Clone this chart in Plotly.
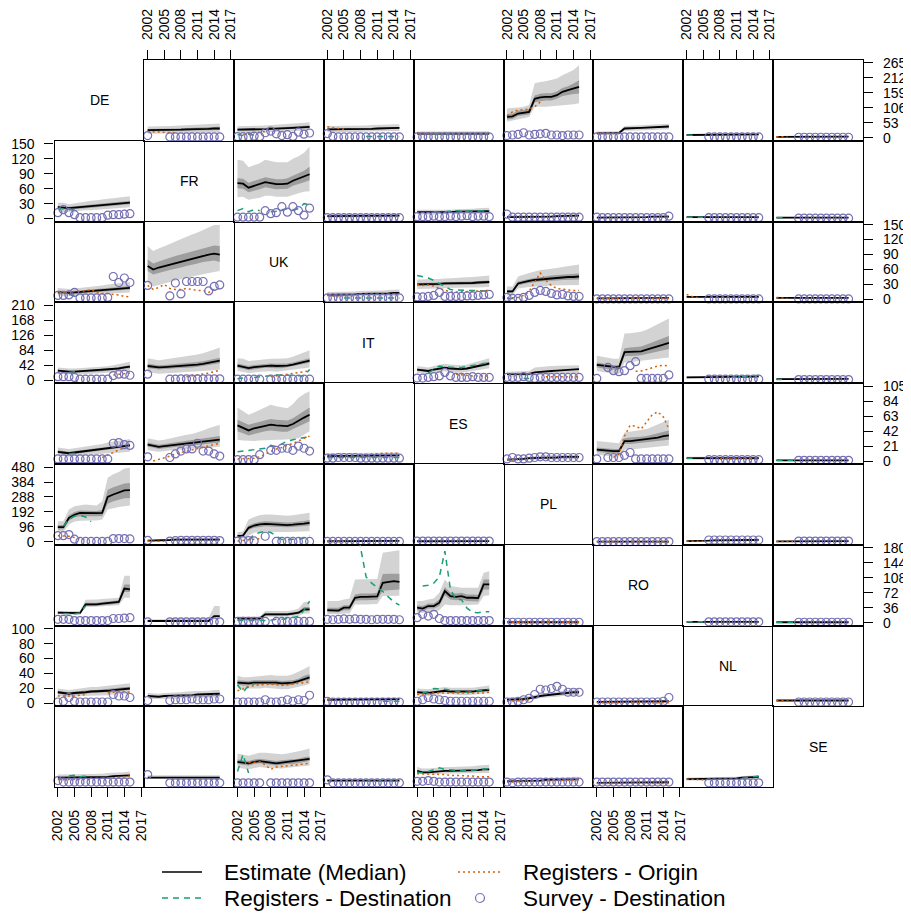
import plotly.graph_objects as go

N = None
YEARS = list(range(2002, 2016))
COUNTRIES = ["DE", "FR", "UK", "IT", "ES", "PL", "RO", "NL", "SE"]
ROW_MAX = [265, 150, 150, 210, 105, 480, 180, 100, 10]
ROW_TICKS = [[0, 53, 106, 159, 212, 265], [0, 30, 60, 90, 120, 150], [0, 30, 60, 90, 120, 150],
             [0, 42, 84, 126, 168, 210], [0, 21, 42, 63, 84, 105], [0, 96, 192, 288, 384, 480],
             [0, 36, 72, 108, 144, 180], [0, 20, 40, 60, 80, 100], [0, 2, 4, 6, 8, 10]]
X_TICKS = [2002, 2005, 2008, 2011, 2014, 2017]
LEGEND_LABELS = ["Estimate (Median)", "Registers - Origin", "Registers - Destination", "Survey - Destination"]

# ---------------- origin DE ----------------
DE_FR = dict(med=[27,27,27,28,28,29,29,30,30,31,31,32,33,33], lo95=[14,14,15,15,15,16,16,17,17,17,18,18,19,19],
             lo50=[23,23,23,24,24,25,25,25,26,26,27,27,28,28], hi50=[31,31,32,32,33,33,34,35,35,36,37,37,38,39],
             hi95=[40,40,41,41,42,43,44,45,46,47,48,49,50,51], rego=[22,21,20,19,18,18,N,N,N,N,N,N,N,N],
             surv=[8,N,N,N,3,3,3,3,3,3,3,3,3,3])
DE_UK = dict(med=[29,29,29,30,30,31,32,32,33,34,35,36,38,39], lo95=[18,18,18,19,19,20,20,21,21,22,23,24,25,26],
             lo50=[25,25,25,26,26,27,28,28,29,30,31,32,33,34], hi50=[33,33,33,34,35,35,36,37,38,39,40,41,43,44],
             hi95=[41,41,42,43,43,44,45,46,47,48,50,51,53,55], regd=[12,8,12,10,N,N,N,N,N,N,N,N,N,N],
             rego=[N,12,16,18,20,22,N,N,N,N,N,N,N,N], surv=[4,4,4,6,4,18,24,14,8,11,5,20,13,17])
DE_IT = dict(med=[30,30,30,30,31,31,31,32,32,33,33,34,35,35], lo95=[20,20,20,20,21,21,21,22,22,22,23,23,24,24],
             lo50=[27,27,27,27,28,28,28,29,29,30,30,31,32,32], hi50=[33,33,33,33,34,34,34,35,35,36,36,37,38,38],
             hi95=[42,42,42,42,43,43,44,44,45,46,46,47,48,48], regd=[N,N,N,N,N,N,N,5,5,5,5,5,5,5],
             rego=[39,36,32,30,N,N,N,N,N,N,N,N,N,N], surv=[15,5,3,3,3,3,3,3,3,3,3,3,3,3])
DE_ES = dict(med=[15,15,14,14,14,14,14,14,14,14,15,15,15,15], lo95=[9,9,8,8,8,8,8,8,8,8,9,9,9,9],
             lo50=[13,13,12,12,12,12,12,12,12,12,13,13,13,13], hi50=[17,17,16,16,16,16,16,16,16,16,17,17,17,17],
             hi95=[22,22,21,21,21,21,21,21,21,21,22,22,22,23], regd=[N,N,N,14,15,16,15,N,N,N,N,N,N,N],
             rego=[18,17,16,15,N,N,N,N,N,N,N,N,N,N], surv=[3,3,3,3,3,3,3,3,3,3,3,3,3,3])
DE_PL = dict(med=[74,76,86,88,92,138,143,145,145,151,163,169,175,180], lo95=[57,60,65,70,74,110,110,110,110,112,115,117,119,122],
             lo50=[65,67,77,79,83,126,130,132,132,138,148,152,155,157], hi50=[84,86,96,98,102,150,156,158,158,164,176,183,192,204],
             hi95=[104,105,107,110,116,193,198,200,204,210,222,230,240,257], rego=[78,92,98,100,102,110,127,N,N,N,N,N,N,N],
             surv=[8,10,12,18,10,12,14,16,10,10,8,10,10,10])
DE_RO = dict(med=[16,16,16,16,17,33,33,34,35,36,37,38,39,40], lo95=[10,10,10,10,11,25,25,26,27,27,28,29,30,30],
             lo50=[14,14,14,14,15,30,30,31,32,33,34,35,36,37], hi50=[18,18,18,18,19,36,36,37,38,39,40,41,42,43],
             hi95=[22,22,22,22,23,42,43,44,45,46,47,48,49,50], rego=[18,17,16,15,15,N,N,N,N,N,N,N,N,N],
             surv=[3,3,3,3,3,3,3,3,3,3,3,3,3,3])
DE_NL = dict(med=[10,10,10,10,11,11,11,11,11,12,12,12,12,12], lo95=[7,7,7,7,8,8,8,8,8,8,8,8,8,8],
             hi95=[13,13,13,13,14,14,14,14,14,15,15,15,15,16], regd=[10,10,9,N,N,N,N,N,N,N,N,N,N,N],
             surv=[N,N,N,N,3,3,3,3,3,3,3,3,3,3])
DE_SE = dict(med=[3,3,3,3,3,3,3,4,4,4,4,4,4,4], lo95=[1,1,1,1,1,1,1,2,2,2,2,2,2,2],
             hi95=[5,5,5,5,5,5,5,6,6,6,6,6,6,6], rego=[4,4,3,N,N,N,N,N,N,N,N,N,N,N],
             surv=[N,N,N,N,2,2,2,2,2,2,2,2,2,2])

# ---------------- origin FR ----------------
FR_DE = dict(med=[23,22,21,22,23,24,25,26,27,28,29,30,31,32], lo95=[15,13,14,15,16,17,17,18,19,20,21,21,22,23],
             lo50=[20,19,18,19,20,21,22,23,24,25,26,27,28,29], hi50=[26,25,24,25,26,27,28,29,30,31,32,34,35,36],
             hi95=[32,32,29,31,33,34,36,37,39,40,41,42,43,45], regd=[21,20,18,19,N,N,N,N,N,N,N,N,N,N],
             surv=[12,18,12,8,2,2,2,2,2,7,8,8,9,10])
FR_UK = dict(med=[71,70,62,66,69,73,71,69,69,70,76,80,84,89], lo95=[43,44,38,40,42,46,46,44,44,44,48,51,54,55],
             lo50=[61,60,53,56,59,63,61,59,59,60,66,69,73,77], hi50=[81,80,72,76,79,83,81,79,79,81,86,91,96,104],
             hi95=[118,116,103,107,111,118,116,113,113,113,120,125,132,144], regd=[16,20,14,18,16,N,14,15,18,20,18,20,30,28],
             surv=[3,3,3,3,3,16,10,12,24,13,24,16,7,21])
FR_IT = dict(med=[5,5,5,5,5,5,5,5,5,6,6,6,6,6], lo95=[2,2,2,2,2,2,2,2,2,3,3,3,3,3],
             hi95=[9,9,9,9,9,9,9,9,9,10,10,10,10,11], surv=[2,2,2,2,2,2,2,2,2,2,2,2,2,2])
FR_ES = dict(med=[13,13,12,12,13,13,13,14,14,14,14,15,15,15], lo95=[9,9,8,8,9,9,9,10,10,10,10,10,10,10],
             hi95=[18,18,17,17,18,18,18,19,19,19,20,21,21,22], regd=[N,N,N,14,13,14,15,16,15,16,15,16,16,15],
             surv=[4,4,4,5,4,4,5,4,5,6,4,5,5,4])
FR_PL = dict(med=[3,3,3,3,3,4,4,4,4,5,5,5,5,6], lo95=[1,1,1,1,1,2,2,2,2,2,2,2,3,3],
             hi95=[6,6,6,6,6,7,7,7,8,8,8,9,9,10], surv=[9,3,3,3,3,3,3,3,3,3,3,3,3,3])
FR_RO = dict(med=[2,2,2,2,2,3,3,3,3,3,4,4,4,4], lo95=[1,1,1,1,1,1,1,1,1,1,2,2,2,2],
             hi95=[4,4,4,4,4,5,5,5,5,5,6,6,7,7], surv=[3,2,2,2,2,2,2,2,2,2,2,2,2,5])
FR_NL = dict(med=[3,3,3,3,3,3,3,3,3,3,3,3,3,3], lo95=[1,1,1,1,1,1,1,1,1,1,1,1,1,1],
             hi95=[5,5,5,5,5,5,5,5,5,5,5,5,5,5], regd=[3,3,3,3,N,N,N,N,N,N,N,N,N,N],
             surv=[N,N,N,N,2,2,2,2,2,2,2,2,2,2])
FR_SE = dict(med=[2,2,2,2,2,2,2,2,2,2,2,2,2,2], lo95=[1,1,1,1,1,1,1,1,1,1,1,1,1,1],
             hi95=[3,3,3,3,3,3,3,3,3,3,3,3,3,3], regd=[2,2,2,N,N,N,N,N,N,N,N,N,N,N],
             surv=[N,N,N,N,1,1,1,1,1,1,1,1,1,1])

# ---------------- origin UK ----------------
UK_DE = dict(med=[15,14,13,14,15,16,17,18,19,20,21,22,23,23], lo95=[8,7,7,8,8,9,10,10,11,12,12,13,13,14],
             lo50=[12,11,11,11,12,13,14,15,16,17,18,18,19,20], hi50=[18,17,16,17,18,19,20,21,22,23,24,25,26,27],
             hi95=[23,22,21,22,23,24,26,27,28,30,31,33,34,35], regd=[N,N,10,8,N,N,N,N,N,N,N,N,N,N],
             rego=[12,14,16,16,16,17,20,14,12,12,10,9,6,5], surv=[8,8,9,14,3,3,3,3,3,4,46,34,43,34])
UK_FR = dict(med=[67,60,64,67,70,73,75,78,81,84,87,90,92,90], lo95=[33,26,29,32,35,38,41,43,46,48,51,53,55,57],
             lo50=[57,50,53,56,59,62,64,67,70,72,75,77,78,75], hi50=[80,72,76,80,83,87,90,93,97,100,103,106,108,107],
             hi95=[107,97,102,106,111,116,121,126,130,134,139,144,149,149], rego=[28,20,24,30,22,20,20,22,20,18,18,14,20,22],
             surv=[28,N,N,N,7,33,11,36,36,36,36,17,26,29])
UK_IT = dict(med=[9,9,9,10,10,10,11,11,11,12,12,12,13,13], lo95=[5,5,5,5,5,6,6,6,6,7,7,7,7,7],
             hi95=[15,15,15,16,16,16,17,17,17,18,18,19,19,20], regd=[N,N,N,3,3,3,3,3,3,3,3,3,3,3],
             rego=[9,7,5,N,N,N,N,N,N,N,N,N,N,N], surv=[3,3,3,3,3,3,3,3,3,3,3,3,3,3])
UK_ES = dict(med=[30,30,30,31,31,32,32,32,33,33,33,34,34,35], lo95=[21,21,21,22,22,23,23,23,24,24,24,24,24,25],
             lo50=[27,27,27,28,28,29,29,29,30,30,30,31,31,32], hi50=[33,33,33,34,34,35,35,35,36,36,36,37,37,38],
             hi95=[40,40,40,41,41,42,42,43,44,44,45,46,47,48], regd=[48,46,43,38,32,25,20,19,18,18,18,17,17,18],
             rego=[30,28,29,27,22,18,15,15,15,16,16,17,17,18], surv=[5,5,6,8,14,6,6,6,6,7,7,8,9,10])
UK_PL = dict(med=[16,16,32,35,37,39,40,42,42,43,44,45,45,46], lo95=[8,8,22,24,25,26,27,27,28,28,28,29,29,29],
             lo50=[13,13,28,31,33,35,36,37,38,38,39,40,40,40], hi50=[19,19,36,39,41,43,45,47,48,49,50,51,52,52],
             hi95=[26,26,46,50,53,56,59,60,61,63,65,67,69,70], regd=[2,2,2,N,N,N,N,N,N,N,N,N,N,N],
             rego=[3,3,4,8,16,35,53,38,28,22,20,19,18,18], surv=[4,2,2,4,8,14,18,16,12,9,10,7,6,6])
UK_RO = dict(med=[2,2,2,2,2,2,2,2,2,2,2,3,3,3], lo95=[1,1,1,1,1,1,1,1,1,1,1,1,1,1],
             hi95=[4,4,4,4,4,4,4,4,4,4,4,5,5,5], rego=[2,2,2,2,2,2,2,2,2,2,2,2,2,2],
             surv=[1,1,1,1,1,1,1,1,1,1,1,1,1,1])
UK_NL = dict(med=[5,5,5,5,5,5,5,5,5,5,5,5,5,5], lo95=[3,3,3,3,3,3,3,3,3,3,3,3,3,3],
             hi95=[7,7,7,7,7,7,7,7,7,7,7,7,7,7], rego=[10,6,4,N,N,N,N,N,N,N,N,N,N,N],
             surv=[N,N,N,N,1,1,1,1,1,1,1,1,1,1])
UK_SE = dict(med=[3,3,3,3,3,3,3,3,3,3,3,3,3,3], lo95=[2,2,2,2,2,2,2,2,2,2,2,2,2,2],
             hi95=[5,5,5,5,5,5,5,5,5,5,5,5,5,5], rego=[4,3,2,N,N,N,N,N,N,N,N,N,N,N],
             surv=[N,N,N,N,1,1,1,1,1,1,1,1,1,1])

# ---------------- origin IT ----------------
IT_DE = dict(med=[27,25,24,24,25,26,26,27,28,29,31,33,36,38], lo95=[19,17,16,16,17,17,17,18,19,19,21,22,24,25],
             lo50=[24,22,21,21,22,23,23,24,25,26,28,29,32,34], hi50=[30,28,27,27,28,29,29,30,31,32,34,37,40,42],
             hi95=[36,34,33,33,34,35,35,36,38,39,42,45,49,52], regd=[N,N,22,24,22,N,N,N,N,N,N,N,N,N],
             rego=[N,N,N,N,N,N,N,N,N,N,15,16,18,20], surv=[10,10,10,8,3,3,3,3,3,3,13,17,17,14])
IT_FR = dict(med=[40,38,36,37,38,40,41,42,42,44,46,49,52,55], lo95=[22,20,18,19,20,21,22,23,24,25,26,27,28,30],
             lo50=[34,32,30,31,32,34,35,36,36,38,40,42,45,48], hi50=[46,44,42,43,44,46,47,48,49,51,53,56,60,63],
             hi95=[62,60,56,58,60,62,64,66,68,72,76,80,86,92], rego=[N,N,N,N,N,N,N,10,12,15,18,20,24,28],
             surv=[17,N,N,N,3,3,4,4,4,4,4,4,4,4])
IT_UK = dict(med=[41,38,34,37,39,41,41,40,40,41,44,48,52,55], lo95=[26,23,20,22,24,25,25,24,25,26,28,31,34,36],
             lo50=[35,32,28,31,33,35,35,34,34,35,38,42,46,49], hi50=[47,44,40,43,45,47,47,46,46,47,50,54,58,62],
             hi95=[62,60,54,56,58,60,60,60,60,62,66,72,78,84], regd=[4,6,N,8,10,12,14,15,15,14,14,12,12,30],
             rego=[N,N,N,N,N,N,10,12,16,18,20,22,24,26], surv=[3,3,3,3,3,N,3,3,3,3,3,3,3,3])
IT_ES = dict(med=[30,28,26,30,33,35,33,31,31,33,36,39,43,47], lo95=[21,19,17,21,23,25,23,21,21,23,25,28,31,34],
             lo50=[27,25,23,27,30,32,30,28,28,30,33,36,39,43], hi50=[33,31,29,33,36,38,36,34,34,36,39,42,47,51],
             hi95=[40,38,36,40,44,46,44,42,42,44,48,52,57,62], regd=[N,N,20,30,40,38,36,35,36,38,40,44,47,50],
             rego=[N,N,N,N,N,N,N,17,15,13,12,12,12,12], surv=[6,6,8,10,12,22,12,8,8,8,10,8,8,8])
IT_PL = dict(med=[17,17,17,17,18,22,24,25,26,27,28,29,30,31], lo95=[10,10,10,10,11,14,15,16,17,18,18,19,20,20],
             hi95=[24,24,24,24,26,36,38,39,40,41,41,42,42,42], regd=[N,N,N,5,5,N,N,N,N,N,N,N,N,N],
             rego=[N,N,N,N,N,N,N,10,10,10,10,10,10,10], surv=[8,8,8,10,8,5,8,8,8,8,8,8,8,8])
IT_RO = dict(med=[43,41,38,36,36,79,80,80,81,86,90,95,100,105], lo95=[26,24,21,18,17,50,51,52,53,55,57,59,62,64],
             lo50=[36,34,31,29,29,67,68,69,70,73,76,80,84,88], hi50=[50,47,44,42,42,90,92,93,95,100,106,112,118,124],
             hi95=[69,66,63,60,60,131,132,134,136,142,150,158,166,173], rego=[N,N,N,N,N,N,N,25,26,30,36,40,42,40],
             surv=[5,N,36,27,24,27,41,52,5,5,5,5,5,15])
IT_NL = dict(med=[8,8,8,8,8,9,9,9,9,9,10,10,10,11], lo95=[5,5,5,5,5,6,6,6,6,6,6,7,7,7],
             hi95=[11,11,11,11,11,12,12,12,12,13,13,14,14,15], regd=[N,N,N,N,N,N,N,N,8,9,10,11,12,14],
             surv=[N,N,N,N,3,3,3,3,3,3,3,3,3,3])
IT_SE = dict(med=[3,3,3,3,3,3,3,3,4,4,4,4,4,4], lo95=[1,1,1,1,1,1,1,1,2,2,2,2,2,2],
             hi95=[6,6,6,6,6,6,6,6,7,7,7,7,7,7], regd=[2,2,N,N,N,N,N,N,N,N,N,N,N,N],
             surv=[N,N,N,N,2,2,2,2,2,2,2,2,2,2])

# ---------------- origin ES ----------------
ES_DE = dict(med=[13,12,11,12,13,14,15,16,17,18,19,20,21,22], lo95=[8,7,6,7,8,9,9,10,10,11,11,12,12,13],
             lo50=[11,10,9,10,11,12,13,14,15,16,17,18,19,20], hi50=[15,14,13,14,15,16,17,18,19,20,21,22,23,24],
             hi95=[19,18,17,18,19,20,22,23,24,26,27,28,30,31], regd=[N,N,10,11,12,N,N,N,N,N,N,N,N,N],
             rego=[N,N,N,N,N,N,N,N,5,8,12,16,18,20], surv=[3,3,3,3,3,3,3,3,3,3,25,26,23,22])
ES_FR = dict(med=[23,22,20,21,22,23,24,25,25,26,27,28,29,30], lo95=[15,14,13,14,15,16,16,17,17,18,18,19,19,20],
             lo50=[20,19,17,18,19,20,21,22,22,23,24,24,25,26], hi50=[26,25,23,24,25,26,27,28,29,30,31,32,34,35],
             hi95=[32,31,29,30,32,33,35,37,38,40,43,46,49,51], rego=[N,0,2,5,7,10,12,14,16,18,20,22,24,25],
             surv=[6,N,N,N,5,10,14,17,17,25,14,14,10,7])
ES_UK = dict(med=[50,46,43,46,48,50,51,50,49,49,52,57,61,65], lo95=[30,29,28,28,29,30,30,30,30,30,31,32,37,42],
             lo50=[42,39,36,38,40,42,43,42,41,41,44,48,52,56], hi50=[58,54,51,53,55,57,59,58,57,57,60,65,70,75],
             hi95=[75,70,65,68,72,76,79,77,75,74,80,89,94,98], regd=[13,14,15,15,16,18,22,20,24,28,30,32,33,34],
             rego=[3,3,3,4,6,10,14,17,19,22,24,28,32,35], surv=[2,2,2,2,9,N,15,15,18,18,15,21,18,14])
ES_IT = dict(med=[7,7,7,7,7,7,7,7,7,7,7,8,8,8], lo95=[4,4,4,4,4,4,4,4,4,4,4,5,5,5],
             hi95=[11,11,11,11,11,11,11,11,11,11,11,12,12,12], regd=[5,5,5,5,5,5,5,5,5,5,5,5,5,5],
             rego=[N,N,N,N,N,N,8,9,10,10,11,11,11,11], surv=[4,4,5,5,5,5,4,4,4,4,4,4,4,4])
ES_PL = dict(med=[2,2,3,3,4,4,5,5,5,5,6,6,6,6], lo95=[1,1,1,1,2,2,2,2,2,2,3,3,3,3],
             hi95=[4,4,5,5,6,7,8,8,8,8,9,9,9,9], rego=[2,2,2,N,N,N,N,N,N,N,N,N,N,N],
             surv=[3,5,3,3,4,5,6,6,5,5,5,5,5,5])
ES_RO = dict(med=[16,15,14,14,14,28,28,29,29,30,32,33,35,36], lo95=[9,8,7,6,6,16,17,17,18,18,19,20,21,22],
             lo50=[13,12,11,11,11,24,24,25,25,26,27,28,29,30], hi50=[19,18,17,17,17,32,33,33,34,35,37,39,41,43],
             hi95=[28,27,26,25,25,40,41,42,43,45,48,51,55,58], rego=[N,N,N,5,10,35,50,49,45,55,65,69,62,45],
             surv=[3,N,5,5,5,8,12,3,3,3,3,3,3,3])
ES_NL = dict(med=[4,4,4,4,3,3,3,3,3,3,4,4,4,4], lo95=[2,2,2,2,2,2,2,2,2,2,2,2,2,2],
             hi95=[6,6,6,6,5,5,5,5,5,5,6,6,6,6], regd=[4,4,4,N,N,N,N,N,N,N,N,N,N,N],
             rego=[N,N,N,N,N,N,3,3,3,3,3,3,3,3], surv=[N,N,N,N,2,2,2,2,2,2,2,2,2,2])
ES_SE = dict(med=[1,1,1,1,1,1,1,1,1,1,1,1,1,1], lo95=[0,0,0,0,0,0,0,0,0,0,0,0,0,0],
             hi95=[2,2,2,2,2,2,2,2,2,2,2,2,2,2], regd=[1,1,1,1,N,N,N,N,N,N,N,N,N,N],
             surv=[N,N,N,N,1,1,1,1,1,1,1,1,1,1])

# ---------------- origin PL ----------------
PL_DE = dict(med=[94,94,154,174,186,184,184,184,186,289,304,315,330,332], lo95=[68,62,111,130,135,137,137,137,143,208,216,223,230,233],
             lo50=[80,80,135,158,165,165,164,164,166,245,260,270,280,282], hi50=[109,109,170,192,202,200,198,198,206,335,350,362,375,377],
             hi95=[133,133,208,229,235,240,236,233,261,411,433,448,470,476], regd=[N,100,145,165,170,160,130,N,N,N,N,N,N,N],
             rego=[40,38,36,28,18,15,N,N,N,N,N,N,N,N], surv=[40,40,47,17,3,3,3,3,3,3,21,21,21,19])
PL_FR = dict(med=[8,8,8,10,12,14,14,15,15,15,15,15,15,15], lo95=[4,4,4,5,6,7,7,8,8,8,8,8,8,8],
             hi95=[14,14,14,17,20,24,24,25,25,25,25,25,25,26], rego=[5,5,5,4,N,N,N,N,N,N,N,N,N,N],
             surv=[10,N,N,N,5,8,10,10,10,10,10,10,10,8])
PL_UK = dict(med=[38,40,90,105,112,116,114,111,110,108,110,112,117,122], lo95=[20,22,40,58,65,68,67,65,64,63,64,65,66,68],
             lo50=[32,34,76,90,96,100,98,96,95,94,95,97,101,105], hi50=[45,47,105,120,128,132,130,127,126,124,126,128,134,140],
             hi95=[62,66,143,160,170,176,175,172,170,168,170,174,180,186], regd=[N,N,14,47,60,68,60,36,15,15,15,18,25,40],
             rego=[5,8,10,15,20,N,N,N,N,N,N,N,N,N], surv=[5,8,8,6,N,36,N,3,3,3,3,3,3,3])
PL_IT = dict(med=[4,4,4,5,5,5,5,5,5,5,5,5,6,6], lo95=[2,2,2,2,2,2,2,2,2,2,2,2,3,3],
             hi95=[8,8,8,9,9,9,9,9,9,9,9,9,10,10], rego=[3,3,3,3,N,N,N,N,N,N,N,N,N,N],
             surv=[3,3,3,3,3,3,3,3,3,3,3,3,3,3])
PL_ES = dict(med=[4,4,4,5,5,5,5,5,5,5,5,5,5,5], lo95=[2,2,2,2,2,2,2,2,2,2,2,2,2,2],
             hi95=[8,8,8,9,9,9,9,9,9,9,9,9,9,9], surv=[5,5,5,5,5,5,5,5,5,5,5,5,5,5])
PL_RO = dict(med=[2,2,2,2,2,2,2,2,2,2,2,2,2,2], lo95=[1,1,1,1,1,1,1,1,1,1,1,1,1,1],
             hi95=[4,4,4,4,4,4,4,4,4,4,4,4,4,4], rego=[2,2,2,2,2,2,2,2,2,2,2,2,2,2],
             surv=[2,2,2,2,2,2,2,2,2,2,2,2,2,2])
PL_NL = dict(med=[5,5,5,6,8,10,11,12,12,12,12,12,12,13], lo95=[2,2,2,3,4,5,6,6,6,6,6,6,6,7],
             hi95=[9,9,9,10,13,16,17,18,18,18,18,19,19,20], rego=[4,4,4,4,N,N,N,N,N,N,N,N,N,N],
             surv=[N,N,N,N,12,12,12,12,12,12,12,12,12,12])
PL_SE = dict(med=[3,3,3,3,4,4,4,4,4,5,5,5,5,5], lo95=[1,1,1,1,2,2,2,2,2,2,2,2,2,2],
             hi95=[6,6,6,6,7,7,7,7,7,8,8,8,8,8], rego=[3,3,3,3,N,N,N,N,N,N,N,N,N,N],
             surv=[N,N,N,N,5,5,5,5,5,5,5,5,5,5])

# ---------------- origin RO ----------------
RO_DE = dict(med=[24,24,23,23,23,44,44,44,46,47,48,50,82,80], lo95=[20,20,19,19,19,38,38,38,39,40,41,42,60,60],
             lo50=[22,22,21,21,21,40,40,40,42,43,44,46,74,74], hi50=[26,26,25,25,25,48,48,48,50,51,52,54,92,92],
             hi95=[28,28,27,27,28,55,55,56,57,58,59,60,113,113], regd=[N,22,21,21,23,40,N,N,N,N,N,N,N,N],
             surv=[8,8,8,5,5,5,5,5,5,5,10,10,11,12])
RO_FR = dict(med=[4,4,4,4,4,4,4,4,4,4,4,4,16,16], lo95=[2,2,2,2,2,2,2,2,2,2,2,2,8,8],
             hi95=[8,8,8,8,10,12,12,12,12,12,12,12,40,40], surv=[2,N,N,N,2,2,2,2,2,2,2,2,2,2])
RO_UK = dict(med=[10,10,10,10,10,20,20,20,20,20,22,24,32,32], lo95=[6,6,6,6,6,14,14,14,14,14,15,16,22,22],
             lo50=[8,8,8,8,8,17,17,17,17,17,19,21,28,28], hi50=[12,12,12,12,12,23,23,23,23,23,25,27,38,38],
             hi95=[15,15,15,15,15,28,28,28,28,28,30,34,50,50], regd=[5,5,4,4,4,5,6,8,8,10,12,15,30,52],
             surv=[3,3,3,3,3,3,N,3,3,3,3,3,3,3])
RO_IT = dict(med=[30,30,29,36,36,60,62,62,62,63,96,98,100,98], lo95=[20,20,20,22,22,44,44,44,44,45,64,64,65,65],
             lo50=[25,25,25,30,30,53,54,54,54,55,77,78,79,80], hi50=[36,36,36,42,42,68,70,70,70,72,117,118,118,118],
             hi95=[52,52,52,56,58,104,104,104,104,105,168,170,172,174], regd=[N,N,N,N,N,250,180,110,95,85,75,62,50,42],
             surv=[8,7,8,9,8,9,8,8,7,8,8,8,8,7])
RO_ES = dict(med=[36,34,40,40,48,76,64,62,64,60,60,59,92,92], lo95=[24,24,26,26,30,44,42,42,42,42,43,44,64,66],
             lo50=[30,28,34,34,40,66,56,54,56,52,52,51,80,80], hi50=[42,40,46,46,56,86,72,70,72,68,68,67,104,104],
             hi95=[52,52,56,58,72,104,88,86,84,84,84,84,120,124], regd=[N,88,90,95,110,172,80,56,55,35,25,24,26,26],
             surv=[12,20,16,20,10,5,5,5,5,5,5,5,5,5])
RO_PL = dict(med=[1,1,1,1,1,1,1,1,1,1,1,1,1,1], lo95=[0,0,0,0,0,0,0,0,0,0,0,0,0,0],
             hi95=[2,2,2,2,2,2,2,2,2,2,2,2,2,2], rego=[1,1,1,1,1,1,1,1,1,1,1,1,1,1],
             surv=[1,1,1,1,1,1,1,1,1,1,1,1,1,1])
RO_NL = dict(med=[2,2,2,2,2,2,2,2,2,2,2,2,2,2], lo95=[1,1,1,1,1,1,1,1,1,1,1,1,1,1],
             hi95=[3,3,3,3,3,3,3,3,3,3,3,3,3,3], regd=[2,2,2,2,N,N,N,N,N,N,N,N,N,N],
             surv=[N,N,N,N,2,2,2,2,2,2,2,2,2,2])
RO_SE = dict(med=[1,1,1,1,1,1,1,1,1,1,1,1,1,1], lo95=[0,0,0,0,0,0,0,0,0,0,0,0,0,0],
             hi95=[2,2,2,2,2,2,2,2,2,2,2,2,2,2], regd=[1,1,1,1,N,N,N,N,N,N,N,N,N,N],
             surv=[N,N,N,N,1,1,1,1,1,1,1,1,1,1])

# ---------------- origin NL ----------------
NL_DE = dict(med=[15,14,13,14,15,15,16,16,17,17,18,19,20,20], lo95=[10,9,8,9,10,10,11,11,11,11,12,12,13,13],
             lo50=[13,12,11,12,13,13,14,14,15,15,16,17,18,18], hi50=[17,16,15,16,17,17,18,18,19,19,20,21,22,22],
             hi95=[20,19,18,19,20,21,22,22,23,23,24,25,26,27], rego=[10,10,9,10,11,12,N,N,N,14,15,16,16,15],
             surv=[2,3,8,3,2,2,2,2,2,2,12,10,10,8])
NL_FR = dict(med=[10,9,9,10,10,10,11,11,11,12,12,12,13,13], lo95=[6,5,5,6,6,6,7,7,7,7,7,7,8,8],
             hi95=[14,13,13,14,14,15,15,16,16,17,17,17,18,18], surv=[4,N,N,N,4,5,5,5,6,5,5,5,6,6])
NL_UK = dict(med=[28,27,27,28,28,29,28,28,27,27,28,30,33,35], lo95=[20,19,19,20,20,21,20,20,19,19,20,22,24,26],
             lo50=[25,24,24,25,25,26,25,25,24,24,25,27,30,31], hi50=[31,30,30,31,31,32,31,31,30,30,31,33,37,39],
             hi95=[37,35,35,36,37,38,38,37,37,37,39,42,46,50], regd=[25,15,24,26,N,N,N,N,N,N,N,N,N,N],
             rego=[17,20,22,24,25,26,26,25,24,25,26,27,28,29], surv=[2,2,2,2,2,5,2,2,3,5,3,5,4,11])
NL_IT = dict(med=[5,5,5,5,5,5,5,5,5,5,5,5,6,6], lo95=[3,3,3,3,3,3,3,3,3,3,3,3,4,4],
             hi95=[7,7,7,7,7,7,7,7,7,7,7,7,8,8], regd=[N,N,N,N,N,N,N,N,N,N,3,3,3,3],
             rego=[6,5,N,N,N,N,N,N,N,N,N,N,N,N], surv=[3,2,2,2,2,2,2,2,2,2,2,2,2,2])
NL_ES = dict(med=[15,14,14,15,16,17,16,16,15,15,16,17,18,18], lo95=[11,10,10,11,12,13,12,12,11,11,12,13,13,14],
             hi95=[20,19,19,20,21,22,21,21,20,20,21,22,23,24], regd=[N,14,16,20,20,19,18,16,15,15,16,17,18,19],
             rego=[12,12,13,14,14,14,14,13,13,13,14,14,14,15], surv=[3,5,8,6,5,4,3,3,3,3,3,3,3,3])
NL_PL = dict(med=[5,5,5,6,7,9,10,11,12,13,14,14,15,15], lo95=[3,3,3,4,5,6,7,8,9,9,10,10,11,11],
             hi95=[8,8,8,9,10,12,13,14,15,17,18,19,20,20], rego=[3,3,3,4,5,N,N,N,N,N,N,N,N,N],
             surv=[2,2,3,5,7,12,19,18,20,23,19,15,15,15])
NL_RO = dict(med=[2,2,2,2,2,2,2,2,2,2,3,3,3,3], lo95=[1,1,1,1,1,1,1,1,1,1,1,1,1,1],
             hi95=[3,3,3,3,3,3,3,3,3,3,4,4,4,4], rego=[1,1,1,1,1,1,1,1,1,1,1,1,1,1],
             surv=[2,2,2,2,2,2,2,2,2,2,2,2,3,8])
NL_SE = dict(med=[4,4,4,4,4,4,4,4,4,4,4,4,4,4], lo95=[3,3,3,3,3,3,3,3,3,3,3,3,3,3],
             hi95=[5,5,5,5,5,5,5,5,5,5,5,5,5,5], rego=[4,4,3,3,N,N,N,N,N,N,N,N,N,N],
             surv=[N,N,N,N,2,2,2,2,2,2,2,2,2,2])

# ---------------- origin SE ----------------
SE_DE = dict(med=[0.9,0.9,0.9,0.9,0.9,0.9,1.0,1.0,1.0,1.0,1.1,1.1,1.2,1.2],
             lo95=[0.6,0.6,0.6,0.6,0.6,0.6,0.7,0.7,0.7,0.7,0.7,0.7,0.8,0.8],
             hi95=[1.3,1.3,1.3,1.3,1.3,1.3,1.4,1.4,1.4,1.5,1.5,1.5,1.6,1.7],
             regd=[N,N,1.1,1.2,1.0,1.1,N,N,N,N,N,N,N,N],
             rego=[0.6,0.6,0.6,0.6,0.7,0.7,0.7,0.7,0.8,0.8,0.8,0.9,1.0,1.1],
             surv=[0.5,0.3,0.3,0.3,0.3,0.3,0.3,0.3,0.3,0.3,0.3,0.3,0.3,0.3])
SE_FR = dict(med=[0.9,0.9,0.9,0.9,0.9,0.9,0.9,0.9,0.9,0.9,0.9,0.9,0.9,0.9],
             lo95=[0.7,0.7,0.7,0.7,0.7,0.7,0.7,0.7,0.7,0.7,0.7,0.7,0.7,0.7],
             hi95=[1.2,1.2,1.2,1.2,1.2,1.2,1.2,1.2,1.2,1.2,1.2,1.2,1.2,1.2],
             surv=[1.3,N,N,N,0.2,0.2,0.2,0.2,0.2,0.2,0.2,0.2,0.2,0.2])
SE_UK = dict(med=[3.0,2.9,2.8,3.0,3.1,3.0,2.9,2.8,2.9,3.0,3.0,3.1,3.3,3.4],
             lo95=[2.2,2.1,2.0,2.2,2.3,2.2,2.2,2.1,2.1,2.2,2.2,2.3,2.4,2.5],
             lo50=[2.7,2.6,2.5,2.7,2.8,2.7,2.6,2.5,2.6,2.7,2.7,2.8,3.0,3.1],
             hi50=[3.3,3.2,3.1,3.3,3.4,3.3,3.2,3.1,3.2,3.3,3.3,3.4,3.6,3.7],
             hi95=[4.1,3.9,3.8,4.0,4.2,4.2,4.1,4.0,4.0,4.1,4.2,4.4,4.6,4.8],
             regd=[1.7,4.0,1.5,N,N,N,N,N,N,N,N,N,N,N],
             rego=[N,N,2.9,3.0,3.0,2.6,2.0,2.3,2.4,2.4,2.5,2.6,2.7,2.8],
             surv=[0.2,0.2,0.2,0.2,0.2,N,0.2,0.2,0.2,0.2,0.2,0.2,0.2,0.2])
SE_IT = dict(med=[0.5,0.5,0.5,0.5,0.5,0.5,0.5,0.5,0.5,0.5,0.5,0.5,0.5,0.5],
             lo95=[0.4,0.4,0.4,0.4,0.4,0.4,0.4,0.4,0.4,0.4,0.4,0.4,0.4,0.4],
             hi95=[0.7,0.7,0.7,0.7,0.7,0.7,0.7,0.7,0.7,0.7,0.7,0.7,0.7,0.7],
             regd=[N,N,N,N,N,N,N,0.4,0.4,0.4,0.4,0.4,0.4,0.4],
             surv=[0.6,0.2,0.2,0.2,0.2,0.2,0.2,0.2,0.2,0.2,0.2,0.2,0.2,0.2])
SE_ES = dict(med=[1.8,1.6,1.6,1.7,1.8,1.8,1.8,1.8,1.8,1.8,1.9,1.9,2.0,2.0],
             lo95=[1.4,1.3,1.3,1.3,1.4,1.4,1.4,1.4,1.4,1.4,1.5,1.5,1.5,1.5],
             hi95=[2.3,2.1,2.1,2.2,2.3,2.3,2.3,2.3,2.3,2.4,2.4,2.5,2.6,2.6],
             regd=[1.6,1.5,1.7,2.0,2.2,2.0,1.9,1.8,1.8,1.8,1.9,1.9,2.0,2.1],
             rego=[1.4,1.4,1.3,1.3,1.3,1.3,1.2,1.2,1.1,1.1,1.1,1.0,1.0,1.0],
             surv=[0.4,0.4,0.5,0.4,0.3,0.3,0.3,0.3,0.3,0.3,0.3,0.3,0.3,0.3])
SE_PL = dict(med=[0.4,0.4,0.4,0.5,0.5,0.5,0.5,0.6,0.6,0.6,0.7,0.7,0.7,0.7],
             lo95=[0.3,0.3,0.3,0.3,0.3,0.3,0.3,0.4,0.4,0.4,0.4,0.4,0.4,0.4],
             hi95=[0.6,0.6,0.6,0.7,0.7,0.7,0.7,0.8,0.8,0.8,0.9,0.9,1.0,1.0],
             rego=[0.3,0.3,0.4,0.4,0.4,0.4,0.5,0.5,0.5,0.6,0.6,0.6,0.6,0.6],
             surv=[0.3,0.2,0.3,0.3,0.3,0.3,0.3,0.3,0.3,0.3,0.3,0.3,0.3,0.3])
SE_RO = dict(med=[0.2,0.2,0.2,0.2,0.2,0.2,0.2,0.3,0.3,0.3,0.3,0.3,0.3,0.3],
             lo95=[0.1,0.1,0.1,0.1,0.1,0.1,0.1,0.1,0.1,0.1,0.1,0.1,0.1,0.1],
             hi95=[0.3,0.3,0.3,0.3,0.3,0.3,0.3,0.4,0.4,0.4,0.4,0.4,0.4,0.4],
             rego=[0.1,0.1,0.1,0.1,0.1,0.1,0.1,0.1,0.1,0.1,0.1,0.1,0.1,0.1],
             surv=[0.3,0.3,0.3,0.3,0.3,0.3,0.3,0.3,0.3,0.3,0.3,0.3,0.3,0.3])
SE_NL = dict(med=[0.7,0.7,0.7,0.7,0.7,0.7,0.8,0.8,0.8,0.8,0.9,0.9,1.0,1.0],
             lo95=[0.5,0.5,0.5,0.5,0.5,0.5,0.6,0.6,0.6,0.6,0.6,0.6,0.7,0.7],
             hi95=[0.9,0.9,0.9,0.9,0.9,0.9,1.0,1.0,1.0,1.0,1.1,1.1,1.2,1.2],
             regd=[N,N,N,N,N,N,N,N,N,N,0.8,0.9,1.0,1.1],
             rego=[0.7,0.7,0.6,0.6,N,N,N,N,N,N,N,N,N,N],
             surv=[N,N,N,N,0.2,0.2,0.2,0.2,0.2,0.2,0.2,0.2,0.2,0.2])

# ---------------- styling / geometry ----------------
# The page body keeps the browser's default 8 px margin, so the figure is
# sized to the remaining viewport and all screen positions are shifted by it.
OFF = 8
W, H = 911 - OFF, 916 - OFF
X0, PW = 54.5, 89.83
Y0, PH = 60.0, 80.81
XRANGE = [2001.4, 2017.6]
C_OUT, C_IN = "#D3D3D3", "#9E9E9E"
C_MED, C_DEST, C_ORIG, C_SURV = "black", "#1B9E77", "#D95F02", "#7570B3"
FONT = "Liberation Sans, Arial, Helvetica, sans-serif"
STANDOFF = 7


def px(x):
    return (x - OFF) / W


def py(y):
    return 1 - (y - OFF) / H


def dom_x(c):
    return [px(X0 + c * PW), px(X0 + (c + 1) * PW)]


def dom_y(r):
    return [py(Y0 + (r + 1) * PH), py(Y0 + r * PH)]


fig = go.Figure()
axes = {}
annotations = []
common = dict(showline=True, mirror=True, linecolor="black", linewidth=1.3, showgrid=False,
              zeroline=False, ticks="", showticklabels=False, fixedrange=True,
              tickfont=dict(family=FONT, size=14, color="black"), tickcolor="black",
              ticklen=9, tickwidth=1.2, automargin=False)

for r, o in enumerate(COUNTRIES):
    m = ROW_MAX[r]
    for c, d in enumerate(COUNTRIES):
        k = r * 9 + c + 1
        s = "" if k == 1 else str(k)
        xa = dict(common, domain=dom_x(c), anchor="y" + s, range=XRANGE, tickvals=X_TICKS)
        ya = dict(common, domain=dom_y(r), anchor="x" + s, range=[-0.04 * m, 1.04 * m],
                  tickvals=ROW_TICKS[r], ticktext=[str(v) for v in ROW_TICKS[r]])
        if r == 0 and c % 2 == 1:
            xa.update(side="top", ticks="outside", showticklabels=True, tickangle=-90, ticklabelstandoff=STANDOFF)
        if r == 8 and c % 2 == 0:
            xa.update(side="bottom", ticks="outside", showticklabels=True, tickangle=-90, ticklabelstandoff=STANDOFF)
        if c == 8 and r % 2 == 0:
            ya.update(side="right", ticks="outside", showticklabels=True, ticklabelstandoff=STANDOFF)
        if c == 0 and r % 2 == 1:
            ya.update(side="left", ticks="outside", showticklabels=True, ticklabelstandoff=STANDOFF)
        axes["xaxis" + s] = xa
        axes["yaxis" + s] = ya

        if o == d:
            dx, dy = dom_x(c), dom_y(r)
            annotations.append(dict(x=(dx[0] + dx[1]) / 2, y=(dy[0] + dy[1]) / 2, xref="paper", yref="paper",
                                    xanchor="center", yanchor="middle", text=o, showarrow=False,
                                    font=dict(family=FONT, size=14, color="black")))
            continue

        p = globals()[f"{o}_{d}"]
        ax = dict(xaxis="x" + s, yaxis="y" + s, showlegend=False, hoverinfo="skip")
        fig.add_trace(go.Scatter(x=YEARS + YEARS[::-1], y=p["hi95"] + p["lo95"][::-1], fill="toself",
                                 fillcolor=C_OUT, line=dict(width=0), mode="lines", **ax))
        if "hi50" in p:
            fig.add_trace(go.Scatter(x=YEARS + YEARS[::-1], y=p["hi50"] + p["lo50"][::-1], fill="toself",
                                     fillcolor=C_IN, line=dict(width=0), mode="lines", **ax))
        fig.add_trace(go.Scatter(x=YEARS, y=p["med"], mode="lines", line=dict(color=C_MED, width=1.8), **ax))
        if "regd" in p:
            fig.add_trace(go.Scatter(x=YEARS, y=p["regd"], mode="lines",
                                     line=dict(color=C_DEST, width=1.5, dash="6px,5px"), **ax))
        if "rego" in p:
            fig.add_trace(go.Scatter(x=YEARS, y=p["rego"], mode="lines",
                                     line=dict(color=C_ORIG, width=1.5, dash="2px,3px"), **ax))
        fig.add_trace(go.Scatter(x=YEARS, y=p["surv"], mode="markers", cliponaxis=False,
                                 marker=dict(symbol="circle-open", size=8, color=C_SURV, line=dict(width=1.2, color=C_SURV)),
                                 **ax))

# ---------------- legend (drawn manually) ----------------
shapes = []
ROW1, ROW2 = 872, 898
shapes.append(dict(type="line", xref="paper", yref="paper", x0=px(162), x1=px(202), y0=py(ROW1), y1=py(ROW1),
                   line=dict(color=C_MED, width=1.5)))
shapes.append(dict(type="line", xref="paper", yref="paper", x0=px(162), x1=px(202), y0=py(ROW2), y1=py(ROW2),
                   line=dict(color=C_DEST, width=1.5, dash="6px,5px")))
shapes.append(dict(type="line", xref="paper", yref="paper", x0=px(458), x1=px(502), y0=py(ROW1), y1=py(ROW1),
                   line=dict(color=C_ORIG, width=1.5, dash="2px,3px")))
shapes.append(dict(type="circle", xref="paper", yref="paper", x0=px(475.5), x1=px(484.5), y0=py(ROW2 + 4.5),
                   y1=py(ROW2 - 4.5), line=dict(color=C_SURV, width=1.2)))
for txt, x, y in [(LEGEND_LABELS[0], 222, ROW1), (LEGEND_LABELS[1], 521, ROW1),
                  (LEGEND_LABELS[2], 222, ROW2), (LEGEND_LABELS[3], 521, ROW2)]:
    annotations.append(dict(x=px(x), y=py(y), xref="paper", yref="paper", text=txt, showarrow=False,
                            xanchor="left", yanchor="middle", font=dict(family=FONT, size=22.5, color="black")))

fig.update_layout(width=W, height=H, margin=dict(l=0, r=0, t=0, b=0), paper_bgcolor="white",
                  plot_bgcolor="white", showlegend=False, annotations=annotations, shapes=shapes, **axes)
fig.write_html("out.html")
